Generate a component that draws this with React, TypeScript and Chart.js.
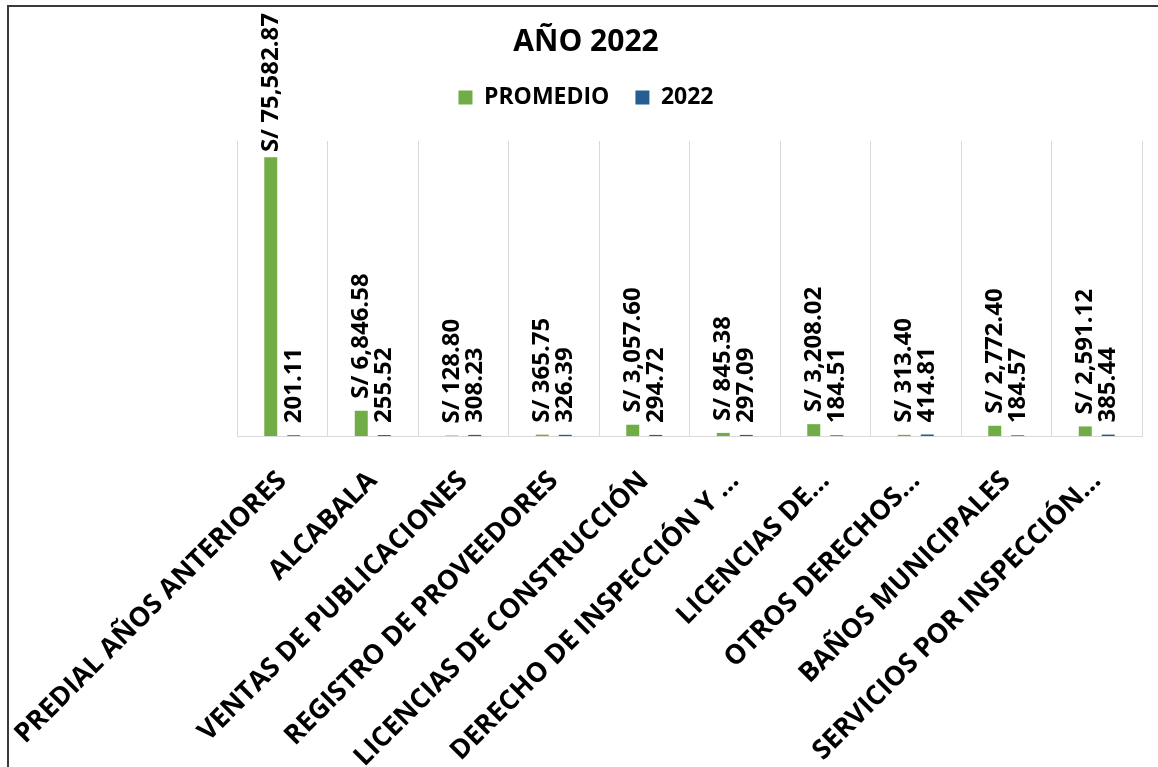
import React, { useEffect, useRef } from "react";
import { Chart, registerables } from "chart.js";

Chart.register(...registerables);

const CATEGORIES = [
  "PREDIAL AÑOS ANTERIORES",
  "ALCABALA",
  "VENTAS DE PUBLICACIONES",
  "REGISTRO DE PROVEEDORES",
  "LICENCIAS DE CONSTRUCCIÓN",
  "DERECHO DE INSPECCIÓN Y …",
  "LICENCIAS DE…",
  "OTROS DERECHOS…",
  "BAÑOS MUNICIPALES",
  "SERVICIOS POR INSPECCIÓN…",
];

const PROMEDIO = [75582.87, 6846.58, 128.8, 365.75, 3057.6, 845.38, 3208.02, 313.4, 2772.4, 2591.12];
const VALUES_2022 = [201.11, 255.52, 308.23, 326.39, 294.72, 297.09, 184.51, 414.81, 184.57, 385.44];

const SERIES_NAMES = ["PROMEDIO", "2022"];
const TITLE = "AÑO 2022";
const Y_MAX = 80000;

const GREEN = "#70AD47";
const BLUE = "#255E91";
const FONT = "'Open Sans', 'DejaVu Sans', sans-serif";

const fmt2 = (v: number) =>
  v.toLocaleString("en-US", { minimumFractionDigits: 2, maximumFractionDigits: 2 });

const dataLabelPlugin = {
  id: "dataLabels",
  afterDatasetsDraw(chart: any) {
    const ctx = chart.ctx;
    ctx.save();
    ctx.font = `bold 24px ${FONT}`;
    ctx.fillStyle = "#000000";
    ctx.textAlign = "left";
    ctx.textBaseline = "middle";
    chart.data.datasets.forEach((ds: any, di: number) => {
      const meta = chart.getDatasetMeta(di);
      meta.data.forEach((bar: any, i: number) => {
        const v = ds.data[i] as number;
        const text = di === 0 ? `S/ ${fmt2(v)}` : fmt2(v);
        const w = ctx.measureText(text).width;
        const yStart = Math.max(bar.y - 12, 6 + w);
        ctx.save();
        ctx.translate(bar.x, yStart);
        ctx.rotate(-Math.PI / 2);
        ctx.fillText(text, 0, 0);
        ctx.restore();
      });
    });
    ctx.restore();
  },
};

export default function App() {
  const canvasRef = useRef<HTMLCanvasElement | null>(null);

  useEffect(() => {
    document.body.style.margin = "0";
    if (!canvasRef.current) return;
    Chart.defaults.font.family = FONT;
    const chart = new Chart(canvasRef.current, {
      type: "bar",
      data: {
        labels: CATEGORIES,
        datasets: [
          {
            label: SERIES_NAMES[0],
            data: PROMEDIO,
            backgroundColor: GREEN,
            borderWidth: 0,
            categoryPercentage: 0.508,
            barPercentage: 0.565,
          },
          {
            label: SERIES_NAMES[1],
            data: VALUES_2022,
            backgroundColor: BLUE,
            borderWidth: 0,
            categoryPercentage: 0.508,
            barPercentage: 0.565,
          },
        ],
      },
      options: {
        animation: false,
        responsive: false,
        maintainAspectRatio: false,
        layout: { padding: 0 },
        plugins: {
          title: {
            display: true,
            text: TITLE,
            color: "#000000",
            font: { size: 30, weight: "bold", family: FONT },
            padding: { top: 17, bottom: 0 },
          },
          subtitle: {
            display: true,
            text: " ",
            weight: 500,
            font: { size: 10 },
            padding: { top: 10, bottom: 0 },
          } as any,
          legend: {
            display: true,
            position: "top",
            labels: {
              color: "#000000",
              boxWidth: 14,
              boxHeight: 14,
              padding: 26,
              font: { size: 23, weight: "bold", family: FONT },
            },
          },
          tooltip: { enabled: false },
        },
        scales: {
          x: {
            offset: true,
            grid: {
              display: true,
              offset: true,
              color: "#d9d9d9",
              lineWidth: 1,
              drawTicks: false,
            },
            border: { display: true, color: "#d9d9d9", width: 1 },
            ticks: {
              autoSkip: false,
              minRotation: 45,
              maxRotation: 45,
              padding: 29,
              color: "#000000",
              font: { size: 27, weight: "bold", family: FONT },
            },
            afterFit: (scale: any) => {
              scale.height = 331;
              scale.paddingLeft = 0;
              scale.paddingRight = 0;
            },
          },
          y: {
            display: true,
            position: "left",
            min: 0,
            max: Y_MAX,
            grid: { display: false, drawTicks: false },
            border: { display: false },
            ticks: { display: false },
            afterFit: (scale: any) => {
              scale.width = 228;
              scale.paddingTop = 0;
              scale.paddingBottom = 0;
            },
          },
          yRight: {
            type: "linear",
            display: true,
            position: "right",
            min: 0,
            max: Y_MAX,
            grid: { display: false, drawTicks: false },
            border: { display: false },
            ticks: { display: false },
            afterFit: (scale: any) => {
              scale.width = 21;
              scale.paddingTop = 0;
              scale.paddingBottom = 0;
            },
          },
        } as any,
      },
      plugins: [dataLabelPlugin],
    });
    return () => chart.destroy();
  }, []);

  return (
    <div style={{ position: "relative", width: 1158, height: 767, overflow: "hidden", background: "#ffffff" }}>
      <div
        style={{
          position: "absolute",
          left: 7,
          top: 5,
          width: 1200,
          height: 800,
          borderLeft: "2px solid #3a3a3a",
          borderTop: "2px solid #3a3a3a",
        }}
      />
      <canvas
        ref={canvasRef}
        width={1154}
        height={760}
        style={{ position: "absolute", left: 9, top: 7, width: 1154, height: 760 }}
      />
    </div>
  );
}
